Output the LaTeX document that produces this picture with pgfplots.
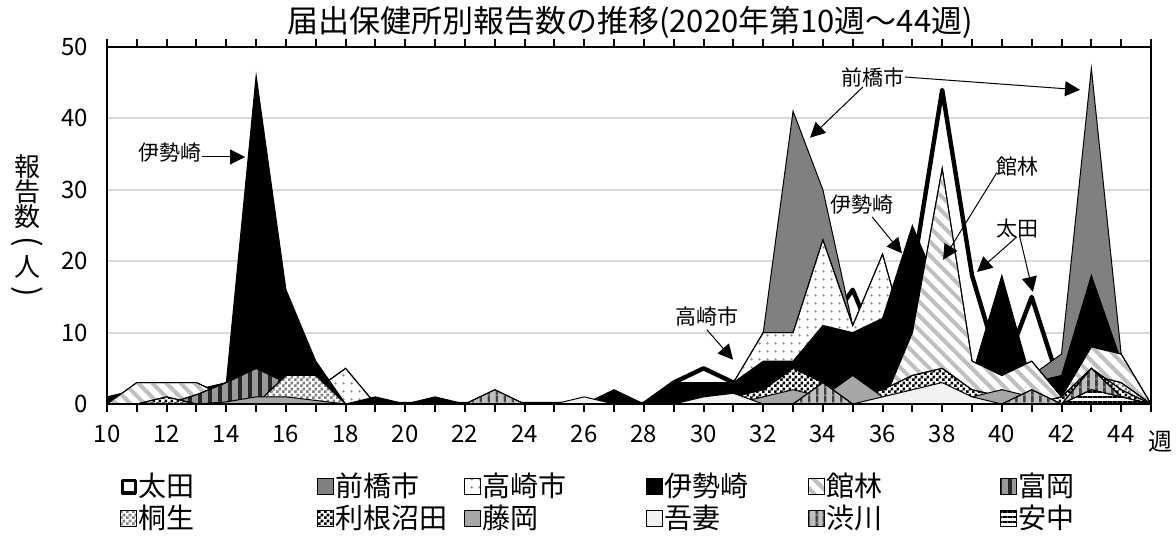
\documentclass[border=0pt]{standalone}
\usepackage{fontspec}
\setmainfont{Noto Sans CJK JP}
\usepackage{graphicx}
\usepackage{pgfplots}
\pgfplotsset{compat=1.18}
\usepackage{pgfplotstable}
\usetikzlibrary{patterns,patterns.meta,arrows.meta}
\pgfdeclarepatternformonly{smallchecker}{\pgfpointorigin}{\pgfqpoint{3pt}{3pt}}{\pgfqpoint{3pt}{3pt}}{%
  \pgfpathrectangle{\pgfpointorigin}{\pgfqpoint{1.5pt}{1.5pt}}%
  \pgfpathrectangle{\pgfqpoint{1.5pt}{1.5pt}}{\pgfqpoint{1.5pt}{1.5pt}}%
  \pgfusepath{fill}}

\pgfplotstableread{
w  ota mae tak ise tat tom kir ton fuj aga shi ann
10 0   0   0   1   0   0   0   0   0   0   0   0
11 0   0   0   2   3   0   0   0   0   0   0   0
12 0   0   0   2   3   0   0   1   0   0   0   0
13 0   0   0   2   3   1.3 0   0   0   0   0   0
14 0   0   0   3   1   3   0   0   0.3 0   0   0
15 0   0   0   46  0   5   0   0   1   0   0   0
16 0   0   0   16  0   3   4   0   1   0   0   0
17 0   0   2   6   0   0   4   0   0.5 0   0   0
18 0   0   5   0   0   0   0   0   0   0   0   0
19 0   0   0   1   0   0   0   0   0   0   0   0
20 0   0   0   0   0   0   0   0   0   0   0   0
21 0   0   0   1   0   0   0   0   0   0   0   0
22 0   0   0   0   0   0   0   0   0   0   0   0
23 0   0   0   0   0   0   0   0   0   0   2   0
24 0   0   0   0   0   0   0   0   0   0   0   0
25 0   0   0   0   0   0   0   0   0   0   0   0
26 0   0   0   0   0   0   0   0   0   1   0   0
27 0   0   0   2   0   0   0   0   0   0   0   0
28 0   0   0   0   0   0   0   0   0   0   0   0
29 3   1   0   3   0   0   0   0   0   0   0   0
30 5   2   1   3   0   0   0   0   0   1   0   0
31 3   2   3   3   0   0   0   1   0   1.5 0   0
32 5   10  10  6   0   0   0   2   1   0   0   0
33 6   41  10  6   0   0   0   5   2   0   0   0
34 10  30  23  11  0   0   0   3   1   0   3   0
35 16  11  11  10  0   0   0   1   4   0   0   0
36 6   8   21  12  0   0   0   2   1   1   0   0
37 18  6   6   25  10  0   0   4   0   2   0   0
38 44  4   4   15  33  0   0   5   1   3   0   0
39 18  3   3   4   6   0   0   2   1   1   0   0
40 4   2   2   18  4   2   0   1   2   0   0   0
41 15  4   1   3   6   0   0   0   1   0   2   0
42 2   7   1   4   1   0   0   1   0   0   0   0
43 6   47  3   18  8   0   4   5   4   0   5   2
44 3   7   2   6   7   0   3   2   1   0   1   1
45 0   0   0   0   0   0   0   0   0   0   0   0
}\data

\begin{document}
\begin{tikzpicture}
\useasboundingbox (0,0) rectangle (588pt,271pt);
\begin{axis}[
  at={(53.5pt,69pt)}, anchor=south west, scale only axis,
  width=522pt, height=178.5pt,
  xmin=10, xmax=45, ymin=0, ymax=50,
  xtick={10,12,...,44}, minor xtick={11,13,...,45},
  ytick={0,10,...,50},
  tick align=outside, major tick length=4pt, minor tick length=4pt,
  tick style={black, line width=1pt},
  ytick style={draw=none},
  ymajorgrids, grid style={black!15, line width=1pt},
  axis line style={line width=1pt},
  /pgf/number format/assume math mode=true,
  tick label style={font=\fontsize{12}{14}\selectfont},
  xticklabel style={yshift=-3pt},
  yticklabel style={xshift=-2pt},
  legend image code/.code={\draw[line width=0.5pt,#1] (0pt,-4pt) rectangle (8pt,4pt);},
  legend style={at={(0.0125,-0.19)}, anchor=north west, draw=none, fill=none,
    font=\fontsize{14}{16}\selectfont, inner sep=0pt, row sep=1.5pt,
    nodes={inner sep=0.5pt},
    /tikz/every even column/.append style={column sep=0pt}},
  legend columns=6, legend cell align=left,
]
\addplot[fill=white, draw=black, line width=2.2pt, line join=round,
  legend image code/.code={\draw[line width=1.6pt, fill=white] (0.8pt,-3.2pt) rectangle (7.2pt,3.2pt);}]
  table[x=w,y=ota]{\data} \closedcycle;
\addlegendentry{\makebox[89pt][l]{太田}}
\addplot[fill=black!50, draw=black, line width=0.5pt] table[x=w,y=mae]{\data} \closedcycle;
\addlegendentry{\makebox[64pt][l]{前橋市}}
\addplot[fill=white, draw=black, line width=0.5pt,
  postaction={pattern={Dots[radius=0.7pt,distance=4pt]}, pattern color=black!45}] table[x=w,y=tak]{\data} \closedcycle;
\addlegendentry{\makebox[81.5pt][l]{高崎市}}
\addplot[fill=black, draw=black, line width=0.5pt] table[x=w,y=ise]{\data} \closedcycle;
\addlegendentry{\makebox[71.5pt][l]{伊勢崎}}
\addplot[fill=white, draw=black, line width=0.5pt,
  postaction={pattern={Lines[angle=-45,distance=5pt,line width=2pt]}, pattern color=black!25}] table[x=w,y=tat]{\data} \closedcycle;
\addlegendentry{\makebox[86.5pt][l]{館林}}
\addplot[fill=black!40, draw=black, line width=0.5pt,
  postaction={pattern={Lines[angle=90,distance=5pt,line width=2pt]}, pattern color=black!85}] table[x=w,y=tom]{\data} \closedcycle;
\addlegendentry{\makebox[40pt][l]{富岡}}
\addplot[fill=white, draw=black, line width=0.5pt,
  postaction={pattern=smallchecker, pattern color=black!50}] table[x=w,y=kir]{\data} \closedcycle;
\addlegendentry{桐生}
\addplot[fill=white, draw=black, line width=0.5pt,
  postaction={pattern=smallchecker, pattern color=black}] table[x=w,y=ton]{\data} \closedcycle;
\addlegendentry{利根沼田}
\addplot[fill=black!35, draw=black, line width=0.5pt] table[x=w,y=fuj]{\data} \closedcycle;
\addlegendentry{藤岡}
\addplot[fill=black!5, draw=black, line width=0.5pt] table[x=w,y=aga]{\data} \closedcycle;
\addlegendentry{吾妻}
\addplot[fill=black!25, draw=black, line width=0.5pt,
  postaction={pattern={Lines[angle=90,distance=4pt,line width=1.5pt]}, pattern color=black!75}] table[x=w,y=shi]{\data} \closedcycle;
\addlegendentry{渋川}
\addplot[fill=white, draw=black, line width=0.5pt,
  postaction={pattern={Lines[angle=0,distance=2.5pt,line width=0.6pt]}, pattern color=black}] table[x=w,y=ann]{\data} \closedcycle;
\addlegendentry{安中}

\begin{scope}[font=\fontsize{10.5}{12}\selectfont, line width=0.5pt]
\node at (axis cs:12.11,35.2) {伊勢崎};
\draw[-{Triangle[length=7.5pt,width=7.5pt]}] (axis cs:13.17,34.6) -- (axis cs:14.63,34.6);
\node at (axis cs:35.68,45.7) {前橋市};
\draw[-{Triangle[length=7.5pt,width=7.5pt]}] (axis cs:35.34,44.4) -- (axis cs:33.57,37.3);
\draw[-{Triangle[length=7.5pt,width=7.5pt]}] (axis cs:36.75,45.8) -- (axis cs:42.62,44.0);
\node at (axis cs:30.11,12.3) {高崎市};
\draw[-{Triangle[length=7.5pt,width=7.5pt]}] (axis cs:30.11,10.4) -- (axis cs:30.99,6.2);
\node at (axis cs:35.31,27.9) {伊勢崎};
\draw[-{Triangle[length=7.5pt,width=7.5pt]}] (axis cs:35.65,26.2) -- (axis cs:36.65,21.1);
\node at (axis cs:40.54,33.3) {館林};
\draw[-{Triangle[length=7.5pt,width=7.5pt]}] (axis cs:39.83,32.4) -- (axis cs:38.03,20.2);
\node at (axis cs:40.51,24.6) {太田};
\draw[-{Triangle[length=7.5pt,width=7.5pt]}] (axis cs:40.5,23.4) -- (axis cs:39.17,18.5);
\draw[-{Triangle[length=7.5pt,width=7.5pt]}] (axis cs:40.6,23.4) -- (axis cs:41.04,15.7);
\end{scope}
\end{axis}
\draw[line width=1pt] (53.5pt,69pt) rectangle (575.5pt,247.5pt);
\node[font=\fontsize{15.5}{18}\selectfont] at (315pt,260pt) {届出保健所別報告数の推移(2020年第10週～44週)};
\node[font=\fontsize{12}{14}\selectfont] at (580pt,50pt) {週};
\node[font=\fontsize{13}{12.5}\selectfont, align=center] at (13.5pt,157pt)
  {報\\告\\数\\\rotatebox[origin=c]{-90}{\scalebox{1.2}{(}}\\人\\\rotatebox[origin=c]{-90}{\scalebox{1.2}{)}}};
\end{tikzpicture}
\end{document}
